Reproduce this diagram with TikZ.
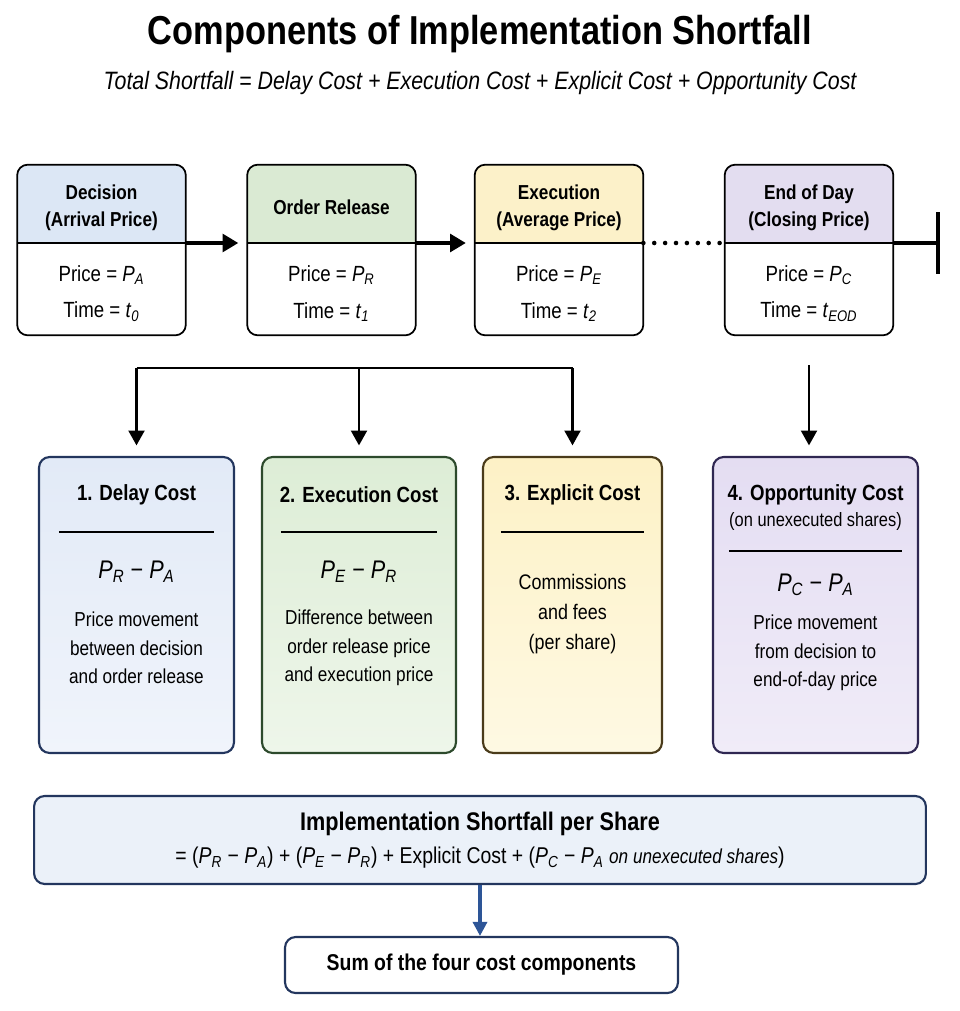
\documentclass[tikz,border=0pt]{standalone}
\usepackage{fontspec}
\setmainfont{Liberation Sans}[FakeStretch=0.85]
\usetikzlibrary{arrows.meta,calc}

\definecolor{hdrblue}{HTML}{DCE7F5}
\definecolor{hdrgreen}{HTML}{DAEAD3}
\definecolor{hdryellow}{HTML}{FCF1C9}
\definecolor{hdrpurple}{HTML}{E3DDF0}
\definecolor{delayline}{HTML}{23365E}
\definecolor{delaytop}{HTML}{E2EAF7}
\definecolor{delaybot}{HTML}{F0F4FB}
\definecolor{execline}{HTML}{2D4A2C}
\definecolor{exectop}{HTML}{DDEDD6}
\definecolor{execbot}{HTML}{EEF6EA}
\definecolor{explline}{HTML}{4A3B1A}
\definecolor{expltop}{HTML}{FDF1C6}
\definecolor{explbot}{HTML}{FEF9E3}
\definecolor{oppline}{HTML}{2F2752}
\definecolor{opptop}{HTML}{E4DDF2}
\definecolor{oppbot}{HTML}{F0ECF8}
\definecolor{sumfill}{HTML}{EBF1F9}
\definecolor{arrowblue}{HTML}{2D5597}

\newcommand{\pp}[1]{\textit{P}\textsubscript{\textit{#1}}}

\tikzset{
  stagebox/.style={minimum width=3.36cm, minimum height=3.4cm, inner sep=0pt},
  headtext/.style={font=\bfseries\fontsize{11.5}{15.5}\selectfont, align=center},
  bodytext/.style={font=\fontsize{12.5}{21}\selectfont, align=center},
  costbox/.style={line width=1.2pt, rounded corners=6pt, minimum height=5.92cm},
  costtitle/.style={font=\bfseries\fontsize{12.5}{15}\selectfont},
  formula/.style={font=\fontsize{14.5}{17}\selectfont},
  desctext/.style={font=\fontsize{11.5}{16.2}\selectfont, align=center},
  flow/.style={line width=2.4pt, -{Triangle[length=9pt,width=10pt]}, shorten >=5pt},
  drop/.style={line width=1.6pt, -{Triangle[length=8.5pt,width=9pt]}, shorten >=6pt},
}

\begin{document}
\begin{tikzpicture}[x=0.02cm, y=-0.02cm]
  \useasboundingbox (0,0) rectangle (960,1011);

  \node[font=\bfseries\fontsize{23}{27}\selectfont] (title) at (480,34)
    {Components of Implementation Shortfall};
  \node[font=\itshape\fontsize{14.3}{17}\selectfont] (subtitle) at (480,83)
    {Total Shortfall = Delay Cost + Execution Cost + Explicit Cost + Opportunity Cost};

  % stages of the order
  \foreach \nm/\cx/\hc/\head/\pr/\tm in {
      dec/101.5/hdrblue/{Decision\\(Arrival Price)}/A/0,
      rel/331.5/hdrgreen/{Order Release}/R/1,
      exe/559/hdryellow/{Execution\\(Average Price)}/E/2,
      eod/809/hdrpurple/{End of Day\\(Closing Price)}/C/EOD}{
    \node[stagebox] (\nm) at (\cx,250) {};
    \coordinate (\nm-l) at ($(\nm.west)+(0,-7)$);
    \coordinate (\nm-r) at ($(\nm.east)+(0,-7)$);
    \begin{scope}
      \clip[rounded corners=6pt] (\nm.north west) rectangle (\nm.south east);
      \fill[\hc] (\nm.north west) rectangle (\nm-r);
    \end{scope}
    \draw[line width=1pt, rounded corners=6pt] (\nm.north west) rectangle (\nm.south east);
    \draw[line width=1pt] (\nm-l) -- (\nm-r);
    \node[headtext] (\nm-h) at ($(\nm.north)+(0,43)$) {\head};
    \node[bodytext] (\nm-b) at ($(\nm.south)+(0,-42)$)
      {Price = \pp{\pr}\\Time = \textit{t}\textsubscript{\textit{\tm}}};
  }

  \coordinate (dayend) at (940,243);
  \draw[flow] (dec-r) -- (rel-l);
  \draw[flow] (rel-r) -- (exe-l);
  \draw[line width=2.6pt, line cap=round, dash pattern=on 0pt off 6.2pt] (exe-r) -- (eod-l);
  \draw[line width=2.4pt, -{Bar[width=35pt]}] (eod-r) -- (dayend);

  % cost components
  \node[costbox, draw=delayline, top color=delaytop, bottom color=delaybot, minimum width=3.9cm] (delay) at (136.5,605) {};
  \node[costbox, draw=execline, top color=exectop, bottom color=execbot, minimum width=3.88cm] (execc) at (359,605) {};
  \node[costbox, draw=explline, top color=expltop, bottom color=explbot, minimum width=3.58cm] (expl) at (572.5,605) {};
  \node[costbox, draw=oppline, top color=opptop, bottom color=oppbot, minimum width=4.1cm] (opp) at (815.5,605) {};

  \node[costtitle] (delay-t) at ($(delay.north)+(0,39)$) {1. Delay Cost};
  \draw[line width=0.8pt] ($(delay.north west)+(21,76)$) -- ($(delay.north east)+(-21,76)$);
  \node[formula] (delay-f) at ($(delay.north)+(0,116)$) {\pp{R} − \pp{A}};
  \node[desctext] (delay-d) at ($(delay.north)+(0,192)$)
    {Price movement\\between decision\\and order release};

  \node[costtitle] (execc-t) at ($(execc.north)+(0,39)$) {2. Execution Cost};
  \draw[line width=0.8pt] ($(execc.north west)+(20,76)$) -- ($(execc.north east)+(-20,76)$);
  \node[formula] (execc-f) at ($(execc.north)+(0,116)$) {\pp{E} − \pp{R}};
  \node[desctext] (execc-d) at ($(execc.north)+(0,192)$)
    {Difference between\\order release price\\and execution price};

  \node[costtitle] (expl-t) at ($(expl.north)+(0,39)$) {3. Explicit Cost};
  \draw[line width=0.8pt] ($(expl.north west)+(19,76)$) -- ($(expl.north east)+(-19,76)$);
  \node[desctext, font=\fontsize{12}{17}\selectfont] (expl-d) at ($(expl.north)+(0,158)$)
    {Commissions\\and fees\\(per share)};

  \node[costtitle] (opp-t) at ($(opp.north)+(0,39)$) {4. Opportunity Cost};
  \node[font=\fontsize{11}{13}\selectfont] (opp-s) at ($(opp.north)+(0,66)$) {(on unexecuted shares)};
  \draw[line width=0.8pt] ($(opp.north west)+(17,95)$) -- ($(opp.north east)+(-17,95)$);
  \node[formula] (opp-f) at ($(opp.north)+(0,129)$) {\pp{C} − \pp{A}};
  \node[desctext] (opp-d) at ($(opp.north)+(0,197)$)
    {Price movement\\from decision to\\end-of-day price};

  % links from the stages
  \coordinate (bus) at (0,368);
  \draw[line width=1.6pt] (delay.north |- bus) -- (expl.north |- bus);
  \foreach \c in {delay,execc,expl}
    \draw[drop] (\c.north |- bus) -- (\c.north);
  \draw[drop, shorten <=17pt] (eod.south) -- (eod.south |- opp.north);

  % total
  \node[draw=delayline, fill=sumfill, line width=1.2pt, rounded corners=6pt,
        minimum width=17.84cm, minimum height=1.76cm] (total) at (480,840) {};
  \node[font=\bfseries\fontsize{14.5}{17}\selectfont] (total-t) at ($(total.north)+(0,29)$)
    {Implementation Shortfall per Share};
  \node[font=\fontsize{13}{15}\selectfont] (total-f) at ($(total.north)+(0,63)$)
    {= (\pp{R} − \pp{A}) + (\pp{E} − \pp{R}) + Explicit Cost + (\pp{C} − \pp{A} \textit{\fontsize{11.5}{12}\selectfont on unexecuted shares})};

  \node[draw=delayline, fill=white, line width=1.2pt, rounded corners=6pt,
        minimum width=7.86cm, minimum height=1.12cm,
        font=\bfseries\fontsize{13}{16}\selectfont] (result) at (481.5,965)
    {Sum of the four cost components};
  \draw[arrowblue, line width=1.8pt, -{Triangle[length=8pt,width=8pt]}]
    (total.south) -- (total.south |- result.north);
\end{tikzpicture}
\end{document}
